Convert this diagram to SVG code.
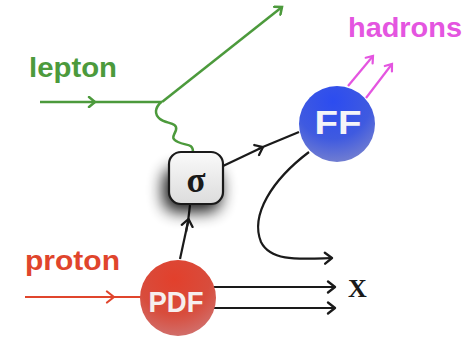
<svg xmlns="http://www.w3.org/2000/svg" width="475" height="338" viewBox="0 0 475 338">
<defs>
<style>
.lbl{font-family:"Liberation Sans",Arial,sans-serif;font-weight:bold}
.g{stroke:#4c9a3c;stroke-width:2.5;fill:none}
.m{stroke:#e455e0;stroke-width:2.2;fill:none}
.r{stroke:#e0452c;stroke-width:2;fill:none}
.k{stroke:#1a1a1a;stroke-width:2.2;fill:none}
</style>
<marker id="ag" markerWidth="12" markerHeight="12" refX="8" refY="6" orient="auto" markerUnits="userSpaceOnUse"><path d="M2,1 L8,6 L2,11" fill="none" stroke="#4c9a3c" stroke-width="2.5" stroke-linecap="round"/></marker>
<marker id="am" markerWidth="12" markerHeight="12" refX="8" refY="6" orient="auto" markerUnits="userSpaceOnUse"><path d="M2,1.5 L8,6 L2,10.5" fill="none" stroke="#e455e0" stroke-width="2.2" stroke-linecap="round"/></marker>
<marker id="ar" markerWidth="14" markerHeight="14" refX="10" refY="7" orient="auto" markerUnits="userSpaceOnUse"><path d="M3,1.5 L10,7 L3,12.5" fill="none" stroke="#e0452c" stroke-width="2.2" stroke-linecap="round" stroke-linejoin="round"/></marker>
<marker id="ak" markerWidth="14" markerHeight="14" refX="10" refY="7" orient="auto" markerUnits="userSpaceOnUse"><path d="M3,1.5 L10,7 L3,12.5" fill="none" stroke="#1a1a1a" stroke-width="2.3" stroke-linecap="round" stroke-linejoin="round"/></marker>
<radialGradient id="gpdf" cx="0.45" cy="0.25" r="0.85"><stop offset="0" stop-color="#e2402c"/><stop offset="0.55" stop-color="#d84c3c"/><stop offset="1" stop-color="#cf7a7a"/></radialGradient>
<radialGradient id="gff" cx="0.45" cy="0.2" r="0.9"><stop offset="0" stop-color="#2c4cf0"/><stop offset="0.55" stop-color="#3f5ae0"/><stop offset="1" stop-color="#8088cc"/></radialGradient>
<linearGradient id="gsig" x1="0" y1="0" x2="0" y2="1"><stop offset="0" stop-color="#fafafa"/><stop offset="1" stop-color="#dcdcdc"/></linearGradient>
<filter id="blur" x="-60%" y="-60%" width="220%" height="220%"><feGaussianBlur stdDeviation="8"/></filter>
</defs>

<g id="connectors">
<line class="g" x1="40" y1="102" x2="95" y2="102" marker-end="url(#ag)"/>
<line class="g" x1="93" y1="102" x2="162" y2="102"/>
<line class="g" x1="162" y1="102" x2="282" y2="7" marker-end="url(#ag)"/>
<path class="g" stroke-width="2" d="M161,102 C155,108 154,114 160,119 C166,124 178,122 176,130 C174,136 170,138 178,142 C186,146 193,143 193,152"/>
<line class="r" x1="25" y1="297" x2="114" y2="297" marker-end="url(#ar)"/>
<line class="r" x1="110" y1="297" x2="142" y2="297"/>
<line class="k" x1="180" y1="259" x2="188" y2="222"/>
<line class="k" x1="186" y1="232" x2="188.5" y2="219" marker-end="url(#ak)"/>
<line class="k" x1="188" y1="222" x2="190" y2="205"/>
<line class="k" x1="223" y1="166" x2="263" y2="147" marker-end="url(#ak)"/>
<line class="k" x1="258" y1="149" x2="299" y2="132"/>
<path class="k" d="M309,152 C272,180 250,215 261,242 C271,262 300,259 332,258" marker-end="url(#ak)"/>
<line class="k" x1="214" y1="287" x2="335" y2="287" marker-end="url(#ak)"/>
<line class="k" x1="214" y1="308" x2="335" y2="308" marker-end="url(#ak)"/>
<line class="m" x1="348" y1="86" x2="373" y2="56" marker-end="url(#am)"/>
<line class="m" x1="366" y1="98" x2="392" y2="64" marker-end="url(#am)"/>
</g>

<g id="lepton">
<text class="lbl" x="29" y="77" font-size="28" fill="#4c9a3c" textLength="88" lengthAdjust="spacingAndGlyphs">lepton</text>
</g>
<g id="hadrons">
<text class="lbl" x="348" y="37" font-size="28" fill="#e455e0" textLength="114" lengthAdjust="spacingAndGlyphs">hadrons</text>
</g>
<g id="proton">
<text class="lbl" x="25" y="270" font-size="28" fill="#e0452c" textLength="95" lengthAdjust="spacingAndGlyphs">proton</text>
</g>
<g id="X">
<text x="348" y="297" font-family="Liberation Serif,'Times New Roman',serif" font-weight="bold" font-size="26" fill="#1a1a1a">X</text>
</g>

<g id="sigma">
<rect x="163" y="168" width="58" height="44" rx="14" fill="#000" opacity="0.9" filter="url(#blur)"/>
<rect x="169" y="152" width="54" height="52" rx="12" fill="url(#gsig)" stroke="#1a1a1a" stroke-width="2.2"/>
<text x="196" y="192" text-anchor="middle" font-family="Liberation Serif,'Times New Roman',serif" font-weight="bold" font-size="35" fill="#1a1a1a">σ</text>
</g>

<g id="FF">
<circle cx="337" cy="124" r="38" fill="url(#gff)"/>
<text class="lbl" x="338" y="134" text-anchor="middle" font-size="34" fill="#f4f4f8" textLength="47" lengthAdjust="spacingAndGlyphs">FF</text>
</g>

<g id="PDF">
<circle cx="178" cy="298" r="38" fill="url(#gpdf)"/>
<text class="lbl" x="176" y="312" text-anchor="middle" font-size="29" fill="#f6eeee" textLength="55" lengthAdjust="spacingAndGlyphs">PDF</text>
</g>
</svg>
